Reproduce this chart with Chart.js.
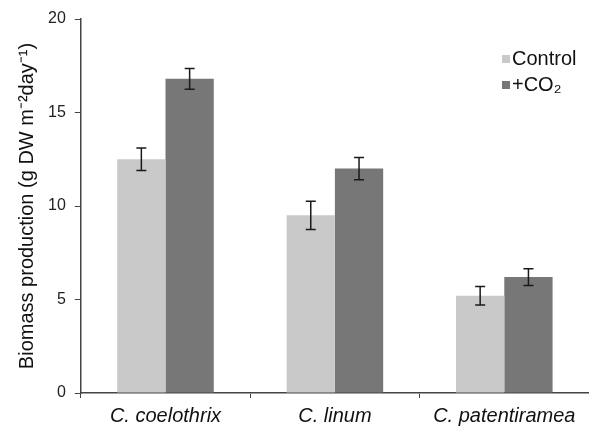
<!DOCTYPE html>
<html>
<head>
<meta charset="utf-8">
<script src="https://cdn.jsdelivr.net/npm/chart.js@4"></script>
<style>
  html, body { margin: 0; padding: 0; background: #fff; overflow: hidden; }
</style>
</head>
<body>
<canvas id="myChart" width="589" height="426"></canvas>
<script>
const species = ["C. coelothrix", "C. linum", "C. patentiramea"];
const controlValues = [12.5, 9.5, 5.2];
const controlErrors = [0.6, 0.75, 0.5];
const co2Values = [16.8, 12.0, 6.2];
const co2Errors = [0.55, 0.6, 0.45];
const yTicks = [0, 5, 10, 15, 20];

const ctx = document.getElementById("myChart").getContext("2d");
const FONT = "'Liberation Sans', Arial, sans-serif";
const AXIS = "#444";

// error bars drawn on top of each bar, using the y scale
const errorBars = {
  id: "errorBars",
  afterDatasetsDraw(chart) {
    const c = chart.ctx;
    const y = chart.scales.y;
    chart.data.datasets.forEach((ds, i) => {
      const meta = chart.getDatasetMeta(i);
      meta.data.forEach((bar, j) => {
        const v = ds.data[j];
        const e = ds.errors[j];
        const top = y.getPixelForValue(v + e);
        const bot = y.getPixelForValue(v - e);
        c.save();
        c.strokeStyle = "#1a1a1a";
        c.lineWidth = 1.5;
        c.beginPath();
        c.moveTo(bar.x, top);
        c.lineTo(bar.x, bot);
        c.moveTo(bar.x - 5, top);
        c.lineTo(bar.x + 5, top);
        c.moveTo(bar.x - 5, bot);
        c.lineTo(bar.x + 5, bot);
        c.stroke();
        c.restore();
      });
    });
  },
};

// small legend in the upper right corner
const cornerLegend = {
  id: "cornerLegend",
  afterDraw(chart) {
    const c = chart.ctx;
    c.save();
    c.font = "20px " + FONT;
    c.textBaseline = "middle";
    chart.data.datasets.forEach((ds, i) => {
      const cy = 59 + i * 26;
      c.fillStyle = ds.backgroundColor;
      c.fillRect(502, cy - 4, 8, 8);
      c.fillStyle = "#111";
      c.fillText(ds.label, 512, cy);
    });
    c.restore();
  },
};

const myChart = new Chart(ctx, {
  type: "bar",
  data: {
    labels: species,
    datasets: [
      {
        label: "Control",
        data: controlValues,
        errors: controlErrors,
        backgroundColor: "#c9c9c9",
        categoryPercentage: 0.57,
        barPercentage: 1.0,
      },
      {
        label: "+CO\u2082",
        data: co2Values,
        errors: co2Errors,
        backgroundColor: "#777777",
        categoryPercentage: 0.57,
        barPercentage: 1.0,
      },
    ],
  },
  options: {
    responsive: false,
    animation: false,
    layout: { padding: { left: 10, top: 19, right: -7, bottom: -8 } },
    plugins: {
      legend: { display: false },
      tooltip: { enabled: false },
    },
    scales: {
      x: {
        grid: { drawOnChartArea: false, drawTicks: true, tickLength: 5, color: AXIS, offset: true },
        border: { color: AXIS, width: 1.5 },
        ticks: {
          color: "#111",
          maxRotation: 0,
          padding: 6,
          font: { family: FONT, size: 20, style: "italic" },
        },
      },
      y: {
        min: 0,
        max: 20,
        afterBuildTicks: (axis) => {
          axis.ticks = yTicks.map((v) => ({ value: v }));
        },
        grid: { drawOnChartArea: false, drawTicks: true, tickLength: 6, color: AXIS },
        border: { color: AXIS, width: 1.5 },
        ticks: {
          color: "#222",
          padding: 9,
          font: { family: FONT, size: 16 },
        },
        title: {
          display: true,
          text: "Biomass production (g DW m\u207B\u00B2day\u207B\u00B9)",
          color: "#111",
          padding: { top: 5, bottom: 0 },
          font: { family: FONT, size: 20 },
        },
      },
    },
  },
  plugins: [errorBars, cornerLegend],
});
</script>
</body>
</html>
